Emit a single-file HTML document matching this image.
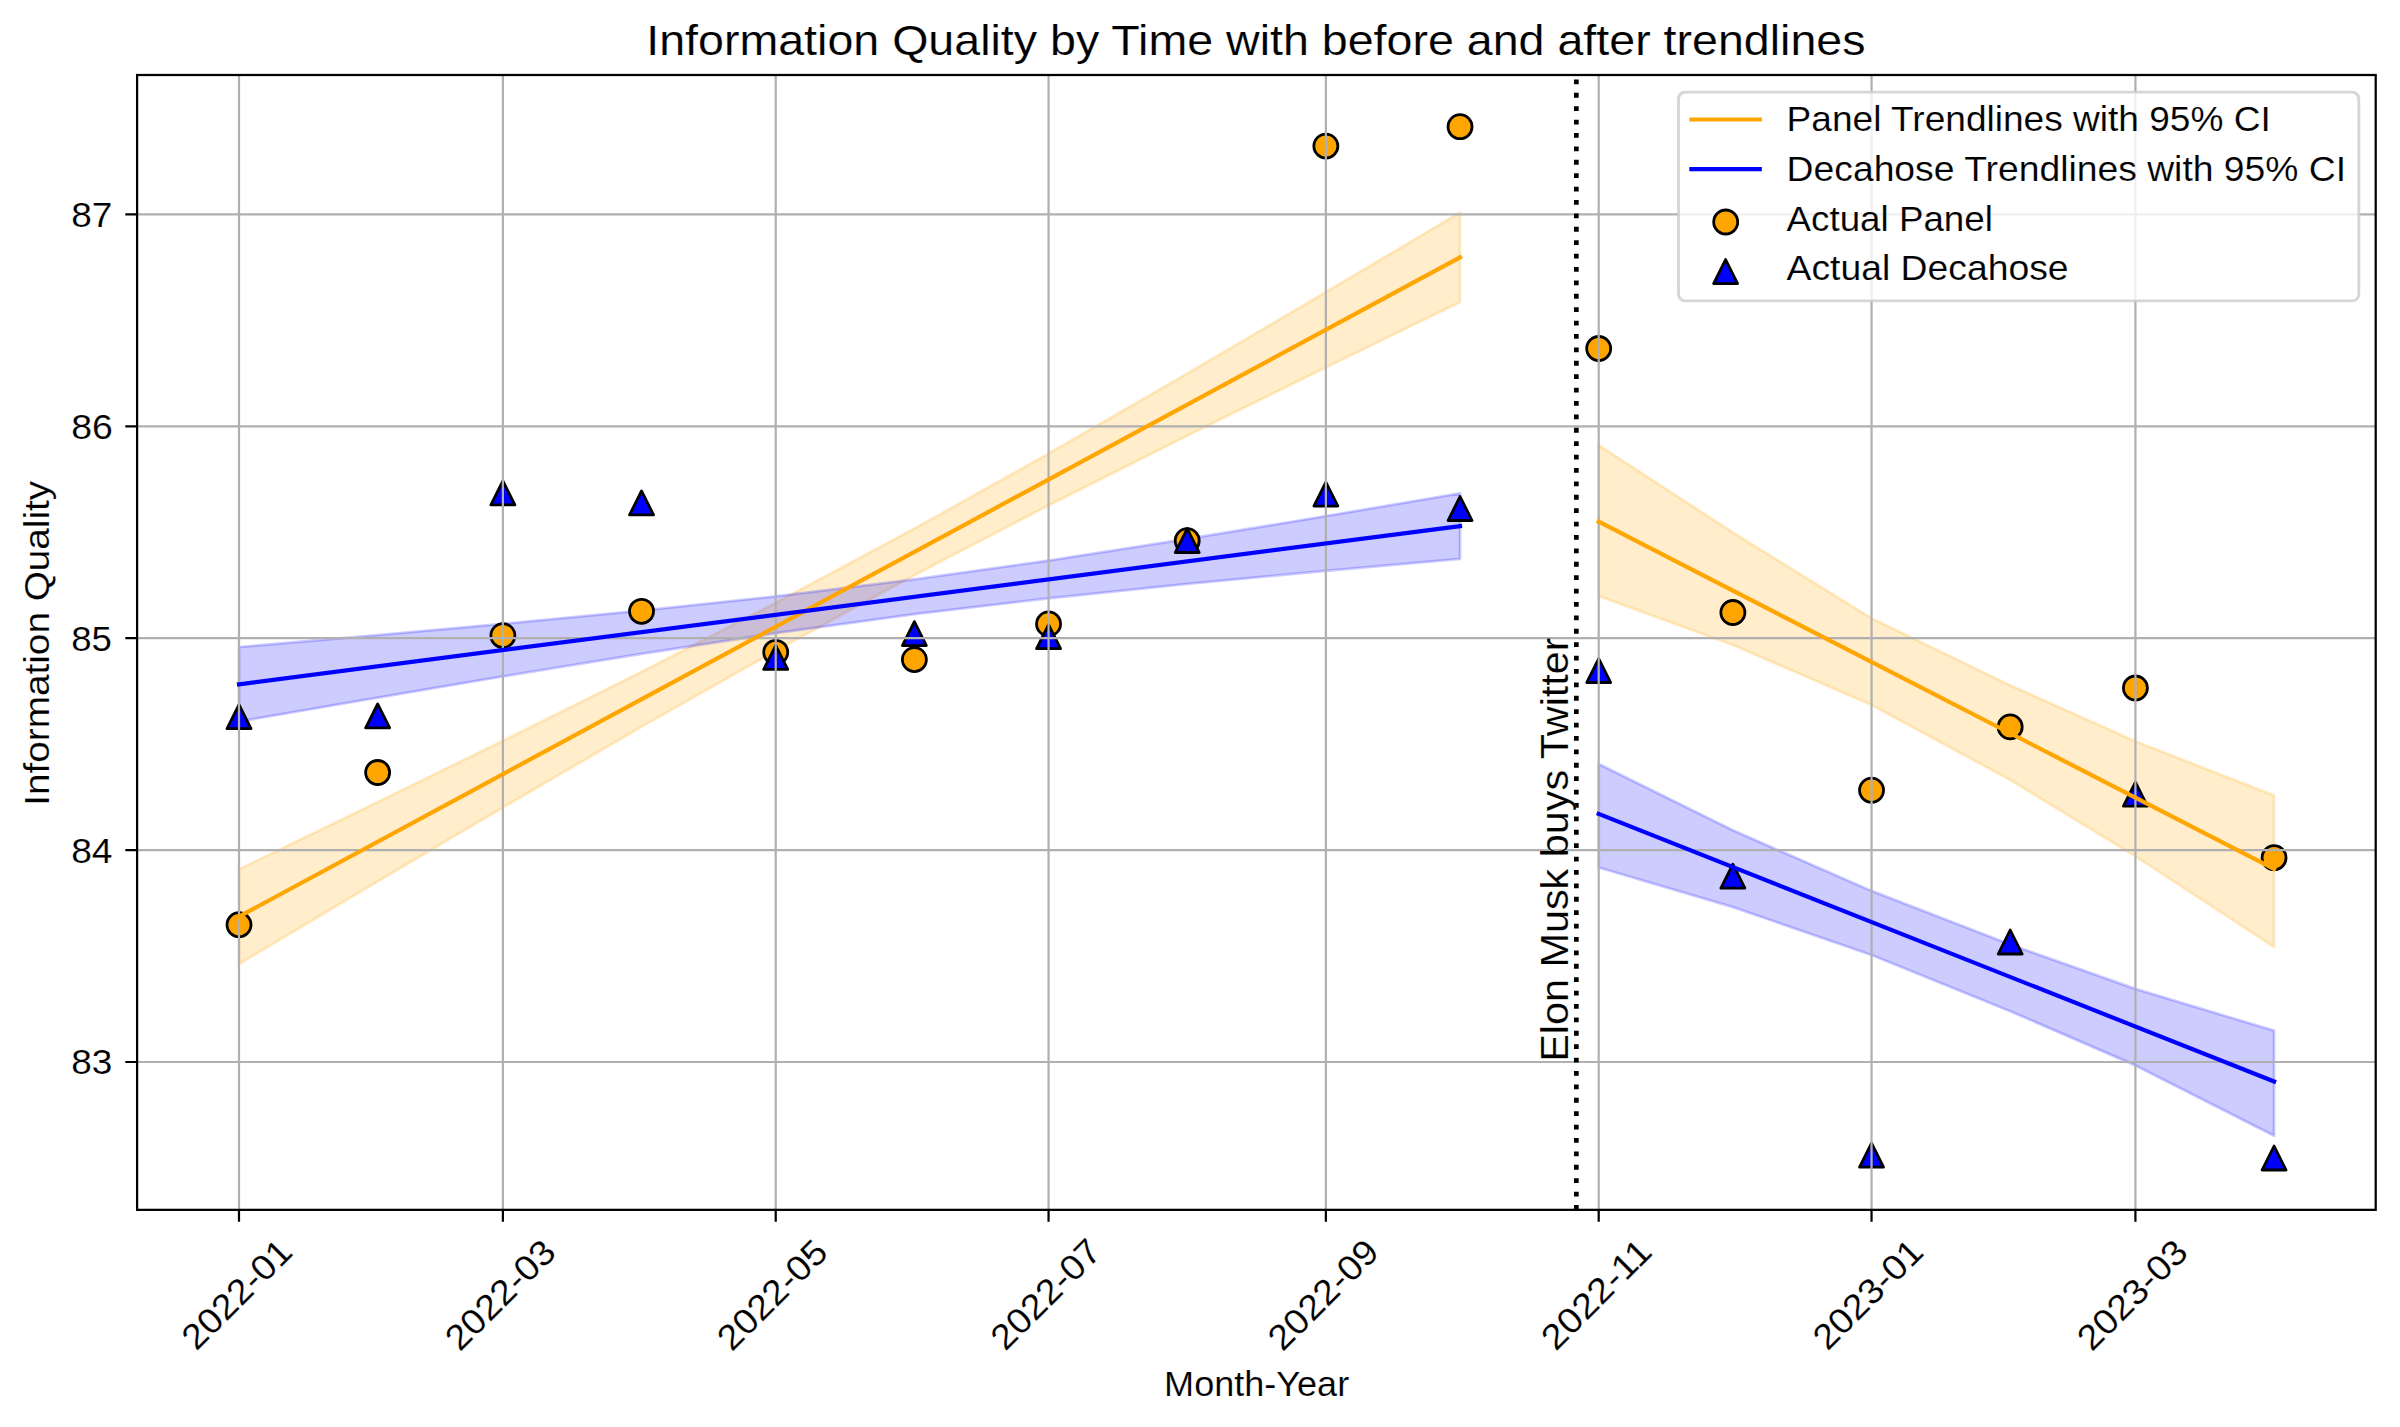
<!DOCTYPE html>
<html><head><meta charset="utf-8"><title>Information Quality by Time</title>
<style>html,body{margin:0;padding:0;background:#ffffff;}svg{display:block;}text{font-family:"Liberation Sans",sans-serif;}</style>
</head><body>
<svg width="2400" height="1427" viewBox="0 0 2400 1427">
<rect x="0" y="0" width="2400" height="1427" fill="#ffffff"/>
<path d="M239.00,869.24 L377.65,802.03 L502.89,740.71 L641.54,671.65 L775.72,602.81 L914.38,528.59 L1048.56,453.56 L1187.21,373.55 L1325.87,292.04 L1460.05,212.34 L1460.05,302.26 L1325.87,367.46 L1187.21,435.68 L1048.56,505.41 L914.38,575.28 L775.72,650.79 L641.54,726.85 L502.89,807.51 L377.65,881.44 L239.00,963.96 Z" fill="#ffa500" fill-opacity="0.2" stroke="#ffa500" stroke-opacity="0.2" stroke-width="2.78" stroke-linejoin="round"/>
<path d="M239.00,647.05 L377.65,635.04 L502.89,623.77 L641.54,610.52 L775.72,596.33 L914.38,579.44 L1048.56,560.57 L1187.21,538.99 L1325.87,516.11 L1460.05,493.28 L1460.05,558.92 L1325.87,570.86 L1187.21,583.91 L1048.56,598.26 L914.38,614.16 L775.72,633.19 L641.54,653.77 L502.89,676.45 L377.65,697.64 L239.00,721.55 Z" fill="#0000ff" fill-opacity="0.2" stroke="#0000ff" stroke-opacity="0.2" stroke-width="2.78" stroke-linejoin="round"/>
<path d="M1598.70,445.10 L1732.88,532.50 L1871.54,618.30 L2010.19,685.20 L2135.42,741.30 L2274.08,795.40 L2274.08,947.10 L2135.42,856.30 L2010.19,780.00 L1871.54,705.00 L1732.88,645.00 L1598.70,596.10 Z" fill="#ffa500" fill-opacity="0.2" stroke="#ffa500" stroke-opacity="0.2" stroke-width="2.78" stroke-linejoin="round"/>
<path d="M1598.70,764.10 L1732.88,830.30 L1871.54,890.90 L2010.19,944.50 L2135.42,988.90 L2274.08,1030.70 L2274.08,1135.80 L2135.42,1065.40 L2010.19,1011.20 L1871.54,955.00 L1732.88,907.10 L1598.70,867.50 Z" fill="#0000ff" fill-opacity="0.2" stroke="#0000ff" stroke-opacity="0.2" stroke-width="2.78" stroke-linejoin="round"/>
<circle cx="239.00" cy="924.70" r="12.0" fill="#ffa500" stroke="#000" stroke-width="2.78"/>
<circle cx="377.65" cy="772.50" r="12.0" fill="#ffa500" stroke="#000" stroke-width="2.78"/>
<circle cx="502.89" cy="635.60" r="12.0" fill="#ffa500" stroke="#000" stroke-width="2.78"/>
<circle cx="641.54" cy="611.30" r="12.0" fill="#ffa500" stroke="#000" stroke-width="2.78"/>
<circle cx="775.72" cy="652.30" r="12.0" fill="#ffa500" stroke="#000" stroke-width="2.78"/>
<circle cx="914.38" cy="659.60" r="12.0" fill="#ffa500" stroke="#000" stroke-width="2.78"/>
<circle cx="1048.56" cy="623.90" r="12.0" fill="#ffa500" stroke="#000" stroke-width="2.78"/>
<circle cx="1187.21" cy="540.70" r="12.0" fill="#ffa500" stroke="#000" stroke-width="2.78"/>
<circle cx="1325.87" cy="146.10" r="12.0" fill="#ffa500" stroke="#000" stroke-width="2.78"/>
<circle cx="1460.05" cy="126.70" r="12.0" fill="#ffa500" stroke="#000" stroke-width="2.78"/>
<circle cx="1598.70" cy="348.50" r="12.0" fill="#ffa500" stroke="#000" stroke-width="2.78"/>
<circle cx="1732.88" cy="612.50" r="12.0" fill="#ffa500" stroke="#000" stroke-width="2.78"/>
<circle cx="1871.54" cy="790.20" r="12.0" fill="#ffa500" stroke="#000" stroke-width="2.78"/>
<circle cx="2010.19" cy="726.90" r="12.0" fill="#ffa500" stroke="#000" stroke-width="2.78"/>
<circle cx="2135.42" cy="688.00" r="12.0" fill="#ffa500" stroke="#000" stroke-width="2.78"/>
<circle cx="2274.08" cy="857.70" r="12.0" fill="#ffa500" stroke="#000" stroke-width="2.78"/>
<path d="M239.00,704.70 L251.00,728.70 L227.00,728.70 Z" fill="#0000ff" stroke="#000" stroke-width="2.78" stroke-linejoin="round"/>
<path d="M377.65,703.90 L389.65,727.90 L365.65,727.90 Z" fill="#0000ff" stroke="#000" stroke-width="2.78" stroke-linejoin="round"/>
<path d="M502.89,480.90 L514.89,504.90 L490.89,504.90 Z" fill="#0000ff" stroke="#000" stroke-width="2.78" stroke-linejoin="round"/>
<path d="M641.54,490.90 L653.54,514.90 L629.54,514.90 Z" fill="#0000ff" stroke="#000" stroke-width="2.78" stroke-linejoin="round"/>
<path d="M775.72,645.40 L787.72,669.40 L763.72,669.40 Z" fill="#0000ff" stroke="#000" stroke-width="2.78" stroke-linejoin="round"/>
<path d="M914.38,621.60 L926.38,645.60 L902.38,645.60 Z" fill="#0000ff" stroke="#000" stroke-width="2.78" stroke-linejoin="round"/>
<path d="M1048.56,624.70 L1060.56,648.70 L1036.56,648.70 Z" fill="#0000ff" stroke="#000" stroke-width="2.78" stroke-linejoin="round"/>
<path d="M1187.21,528.50 L1199.21,552.50 L1175.21,552.50 Z" fill="#0000ff" stroke="#000" stroke-width="2.78" stroke-linejoin="round"/>
<path d="M1325.87,482.10 L1337.87,506.10 L1313.87,506.10 Z" fill="#0000ff" stroke="#000" stroke-width="2.78" stroke-linejoin="round"/>
<path d="M1460.05,496.50 L1472.05,520.50 L1448.05,520.50 Z" fill="#0000ff" stroke="#000" stroke-width="2.78" stroke-linejoin="round"/>
<path d="M1598.70,658.50 L1610.70,682.50 L1586.70,682.50 Z" fill="#0000ff" stroke="#000" stroke-width="2.78" stroke-linejoin="round"/>
<path d="M1732.88,864.20 L1744.88,888.20 L1720.88,888.20 Z" fill="#0000ff" stroke="#000" stroke-width="2.78" stroke-linejoin="round"/>
<path d="M1871.54,1143.20 L1883.54,1167.20 L1859.54,1167.20 Z" fill="#0000ff" stroke="#000" stroke-width="2.78" stroke-linejoin="round"/>
<path d="M2010.19,930.00 L2022.19,954.00 L1998.19,954.00 Z" fill="#0000ff" stroke="#000" stroke-width="2.78" stroke-linejoin="round"/>
<path d="M2135.42,782.20 L2147.42,806.20 L2123.42,806.20 Z" fill="#0000ff" stroke="#000" stroke-width="2.78" stroke-linejoin="round"/>
<path d="M2274.08,1146.00 L2286.08,1170.00 L2262.08,1170.00 Z" fill="#0000ff" stroke="#000" stroke-width="2.78" stroke-linejoin="round"/>
<path d="M239.00,75.00 V1209.85 M502.89,75.00 V1209.85 M775.72,75.00 V1209.85 M1048.56,75.00 V1209.85 M1325.87,75.00 V1209.85 M1598.70,75.00 V1209.85 M1871.54,75.00 V1209.85 M2135.42,75.00 V1209.85 M137.10,1062.00 H2375.70 M137.10,850.10 H2375.70 M137.10,638.20 H2375.70 M137.10,426.30 H2375.70 M137.10,214.40 H2375.70" stroke="#b0b0b0" stroke-width="2.22" fill="none"/>
<path d="M239.00,916.60 L1460.05,257.30" stroke="#ffa500" stroke-width="4.17" stroke-linecap="square" fill="none"/>
<path d="M239.00,684.30 L1460.05,526.10" stroke="#0000ff" stroke-width="4.17" stroke-linecap="square" fill="none"/>
<path d="M1598.70,521.60 L2274.08,869.00" stroke="#ffa500" stroke-width="4.17" stroke-linecap="square" fill="none"/>
<path d="M1598.70,813.90 L2274.08,1081.50" stroke="#0000ff" stroke-width="4.17" stroke-linecap="square" fill="none"/>
<path d="M1576.34,1209.85 V75.00" stroke="#000" stroke-width="4.7" stroke-dasharray="4.8 8.6" fill="none"/>
<rect x="137.10" y="75.00" width="2238.60" height="1134.85" fill="none" stroke="#000" stroke-width="2.25" stroke-linejoin="miter"/>
<path d="M239.00,1209.85 V1221.65 M502.89,1209.85 V1221.65 M775.72,1209.85 V1221.65 M1048.56,1209.85 V1221.65 M1325.87,1209.85 V1221.65 M1598.70,1209.85 V1221.65 M1871.54,1209.85 V1221.65 M2135.42,1209.85 V1221.65 M137.10,1062.00 H125.30 M137.10,850.10 H125.30 M137.10,638.20 H125.30 M137.10,426.30 H125.30 M137.10,214.40 H125.30" stroke="#000" stroke-width="2.22" fill="none"/>
<g font-family="Liberation Sans, sans-serif" fill="#000" stroke="#fff" stroke-width="0.15" stroke-opacity="1">
<text x="646.19" y="54.70" font-size="42.62" textLength="1219.37" lengthAdjust="spacingAndGlyphs">Information Quality by Time with before and after trendlines</text>
<text x="71.20" y="1074.40" font-size="35.45" textLength="41.11" lengthAdjust="spacingAndGlyphs">83</text>
<text x="71.19" y="862.50" font-size="35.45" textLength="41.33" lengthAdjust="spacingAndGlyphs">84</text>
<text x="71.21" y="650.60" font-size="35.45" textLength="40.74" lengthAdjust="spacingAndGlyphs">85</text>
<text x="71.18" y="438.70" font-size="35.45" textLength="41.66" lengthAdjust="spacingAndGlyphs">86</text>
<text x="71.20" y="226.80" font-size="35.45" textLength="41.14" lengthAdjust="spacingAndGlyphs">87</text>
<text x="196.39" y="1351.85" font-size="35.45" textLength="138.59" lengthAdjust="spacingAndGlyphs" transform="rotate(-45 196.39 1351.85)">2022-01</text>
<text x="459.72" y="1352.50" font-size="35.45" textLength="138.82" lengthAdjust="spacingAndGlyphs" transform="rotate(-45 459.72 1352.50)">2022-03</text>
<text x="731.85" y="1352.41" font-size="35.45" textLength="138.47" lengthAdjust="spacingAndGlyphs" transform="rotate(-45 731.85 1352.41)">2022-05</text>
<text x="1005.28" y="1351.91" font-size="35.45" textLength="138.86" lengthAdjust="spacingAndGlyphs" transform="rotate(-45 1005.28 1351.91)">2022-07</text>
<text x="1282.61" y="1352.59" font-size="35.45" textLength="139.18" lengthAdjust="spacingAndGlyphs" transform="rotate(-45 1282.61 1352.59)">2022-09</text>
<text x="1555.86" y="1351.88" font-size="35.45" textLength="138.70" lengthAdjust="spacingAndGlyphs" transform="rotate(-45 1555.86 1351.88)">2022-11</text>
<text x="1827.42" y="1351.85" font-size="35.45" textLength="138.59" lengthAdjust="spacingAndGlyphs" transform="rotate(-45 1827.42 1351.85)">2023-01</text>
<text x="2091.76" y="1352.50" font-size="35.45" textLength="138.82" lengthAdjust="spacingAndGlyphs" transform="rotate(-45 2091.76 1352.50)">2023-03</text>
<text x="1164.13" y="1395.70" font-size="35.45" textLength="185.03" lengthAdjust="spacingAndGlyphs">Month-Year</text>
<text x="49.30" y="805.68" font-size="35.45" textLength="324.79" lengthAdjust="spacingAndGlyphs" transform="rotate(-90 49.30 805.68)">Information Quality</text>
<text x="1567.90" y="1061.71" font-size="39.14" textLength="424.27" lengthAdjust="spacingAndGlyphs" transform="rotate(-90 1567.90 1061.71)">Elon Musk buys Twitter</text>
</g>
<rect x="1678.5" y="92.15" width="680.30" height="208.75" rx="6.7" ry="6.7" fill="#ffffff" fill-opacity="0.8" stroke="#cccccc" stroke-opacity="0.8" stroke-width="2.9"/>
<path d="M1691.4,119.5 H1759.8" stroke="#ffa500" stroke-width="4.17" stroke-linecap="square"/>
<path d="M1691.4,169.2 H1759.8" stroke="#0000ff" stroke-width="4.17" stroke-linecap="square"/>
<circle cx="1725.7" cy="222.0" r="12.0" fill="#ffa500" stroke="#000" stroke-width="2.78"/>
<path d="M1725.60,259.55 L1737.60,283.55 L1713.60,283.55 Z" fill="#0000ff" stroke="#000" stroke-width="2.78" stroke-linejoin="round"/>
<g font-family="Liberation Sans, sans-serif" fill="#000" stroke="#fff" stroke-width="0.15" stroke-opacity="1">
<text x="1786.63" y="131.30" font-size="35.55" textLength="484.20" lengthAdjust="spacingAndGlyphs">Panel Trendlines with 95% CI</text>
<text x="1786.61" y="181.00" font-size="35.55" textLength="559.49" lengthAdjust="spacingAndGlyphs">Decahose Trendlines with 95% CI</text>
<text x="1786.56" y="230.70" font-size="35.55" textLength="206.37" lengthAdjust="spacingAndGlyphs">Actual Panel</text>
<text x="1786.56" y="280.40" font-size="35.55" textLength="282.07" lengthAdjust="spacingAndGlyphs">Actual Decahose</text>
</g>
</svg>
</body></html>
